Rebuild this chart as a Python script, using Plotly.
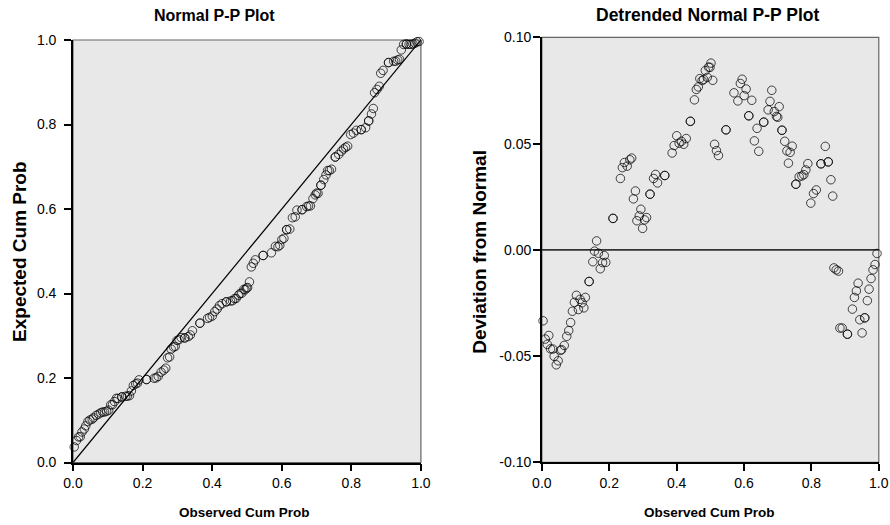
import plotly.graph_objects as go

# Observed cumulative probabilities (sorted cases; repeated values are tied cases)
observed = [
    0.0035, 0.0100, 0.0160, 0.0207, 0.0257, 0.0325, 0.0366, 0.0428, 0.0484, 0.0552,
    0.0588, 0.0665, 0.0739, 0.0798, 0.0854, 0.0907, 0.0966, 0.1025, 0.1084, 0.1134,
    0.1193, 0.1247, 0.1291, 0.1403, 0.1403, 0.1513, 0.1563, 0.1625, 0.1678, 0.1734,
    0.1802, 0.1852, 0.1897, 0.2112, 0.2112, 0.2331, 0.2390, 0.2449, 0.2532, 0.2611,
    0.2665, 0.2718, 0.2777, 0.2821, 0.2892, 0.2939, 0.2990, 0.3049, 0.3108, 0.3211,
    0.3211, 0.3315, 0.3374, 0.3433, 0.3648, 0.3648, 0.3867, 0.3926, 0.4003, 0.4074,
    0.4142, 0.4210, 0.4284, 0.4408, 0.4408, 0.4529, 0.4585, 0.4644, 0.4688, 0.4756,
    0.4801, 0.4851, 0.4910, 0.4948, 0.4990, 0.5019, 0.5072, 0.5126, 0.5182, 0.5241,
    0.5465, 0.5465, 0.5702, 0.5817, 0.5891, 0.5944, 0.6003, 0.6062, 0.6142, 0.6142,
    0.6230, 0.6307, 0.6387, 0.6437, 0.6585, 0.6585, 0.6715, 0.6771, 0.6824, 0.6898,
    0.6963, 0.7001, 0.7043, 0.7126, 0.7126, 0.7208, 0.7273, 0.7318, 0.7368, 0.7430,
    0.7539, 0.7539, 0.7637, 0.7716, 0.7775, 0.7835, 0.7894, 0.7982, 0.8062, 0.8145,
    0.8284, 0.8284, 0.8411, 0.8499, 0.8499, 0.8579, 0.8632, 0.8668, 0.8736, 0.8804,
    0.8845, 0.8913, 0.9069, 0.9069, 0.9217, 0.9276, 0.9335, 0.9386, 0.9436, 0.9504,
    0.9583, 0.9583, 0.9660, 0.9711, 0.9770, 0.9829, 0.9888, 0.9947,
]

# Deviation from normal (observed minus expected cumulative probability)
deviation = [
    -0.0334, -0.0420, -0.0445, -0.0403, -0.0466, -0.0467, -0.0501, -0.0541, -0.0522, -0.0473,
    -0.0470, -0.0450, -0.0407, -0.0380, -0.0342, -0.0289, -0.0247, -0.0214, -0.0281, -0.0233,
    -0.0249, -0.0273, -0.0224, -0.0149, -0.0149, -0.0056, -0.0006, 0.0042, -0.0016, -0.0089,
    -0.0060, -0.0027, -0.0059, 0.0148, 0.0148, 0.0336, 0.0387, 0.0411, 0.0394, 0.0424,
    0.0432, 0.0240, 0.0277, 0.0137, 0.0160, 0.0191, 0.0101, 0.0141, 0.0152, 0.0262,
    0.0262, 0.0336, 0.0355, 0.0315, 0.0350, 0.0350, 0.0456, 0.0491, 0.0537, 0.0502,
    0.0511, 0.0497, 0.0524, 0.0605, 0.0605, 0.0706, 0.0755, 0.0767, 0.0806, 0.0797,
    0.0802, 0.0844, 0.0812, 0.0860, 0.0859, 0.0879, 0.0798, 0.0497, 0.0467, 0.0444,
    0.0565, 0.0565, 0.0739, 0.0701, 0.0783, 0.0803, 0.0726, 0.0757, 0.0631, 0.0631,
    0.0704, 0.0513, 0.0572, 0.0464, 0.0601, 0.0601, 0.0659, 0.0699, 0.0751, 0.0651,
    0.0628, 0.0624, 0.0674, 0.0563, 0.0563, 0.0511, 0.0466, 0.0408, 0.0459, 0.0488,
    0.0309, 0.0309, 0.0344, 0.0348, 0.0354, 0.0376, 0.0406, 0.0220, 0.0265, 0.0282,
    0.0405, 0.0405, 0.0487, 0.0414, 0.0414, 0.0330, 0.0253, -0.0085, -0.0094, -0.0100,
    -0.0368, -0.0368, -0.0397, -0.0397, -0.0279, -0.0224, -0.0193, -0.0157, -0.0329, -0.0391,
    -0.0320, -0.0320, -0.0239, -0.0185, -0.0135, -0.0094, -0.0069, -0.0017,
]

# Expected cumulative probability under the normal model
expected = [o - d for o, d in zip(observed, deviation)]

prob_range = [0.0, 1.0]
prob_ticks = [0.0, 0.2, 0.4, 0.6, 0.8, 1.0]
prob_ticktext = ["0.0", "0.2", "0.4", "0.6", "0.8", "1.0"]
dev_range = [-0.10, 0.10]
dev_ticks = [-0.10, -0.05, 0.00, 0.05, 0.10]
dev_ticktext = ["-0.10", "-0.05", "0.00", "0.05", "0.10"]

# Page-pixel to paper-fraction helpers for the drawing area the figure occupies
AREA_X0, AREA_Y0, AREA_W, AREA_H = 8.0, 8.0, 874.0, 509.0


def fx(px):
    return (px - AREA_X0) / AREA_W


def fy(py):
    return 1.0 - (py - AREA_Y0) / AREA_H


SANS = "Liberation Sans, Arial, sans-serif"
LEFT_TITLE_FONT = dict(family=SANS, size=16, color="black")
RIGHT_TITLE_FONT = dict(family=SANS, size=17.5, color="black")
X_TITLE_FONT = dict(family=SANS, size=13.5, color="black")
Y_TITLE_FONT = dict(family=SANS, size=19, color="black")
TICK_FONT = dict(family=SANS, size=14, color="black")

marker_style = dict(symbol="circle-open", size=8.5, color="black", opacity=0.72,
                    line=dict(width=1, color="black"))

fig = go.Figure()

# Normal P-P plot: reference diagonal and points
fig.add_trace(go.Scatter(x=prob_range, y=prob_range, mode="lines",
                         line=dict(color="black", width=1.2),
                         xaxis="x", yaxis="y", showlegend=False, hoverinfo="skip"))
fig.add_trace(go.Scatter(x=observed, y=expected, mode="markers", marker=marker_style,
                         xaxis="x", yaxis="y", showlegend=False, cliponaxis=False))

# Detrended plot: zero reference line and deviations
fig.add_trace(go.Scatter(x=prob_range, y=[0, 0], mode="lines",
                         line=dict(color="#333333", width=1.6),
                         xaxis="x2", yaxis="y2", showlegend=False, hoverinfo="skip"))
fig.add_trace(go.Scatter(x=observed, y=deviation, mode="markers", marker=marker_style,
                         xaxis="x2", yaxis="y2", showlegend=False, cliponaxis=False))

axis_common = dict(showgrid=False, zeroline=False, showline=True, linecolor="black",
                   linewidth=1.6, ticks="outside", ticklen=7, tickwidth=1.5,
                   tickcolor="black", tickfont=TICK_FONT)

fig.update_layout(
    width=890, height=525,
    margin=dict(l=0, r=0, t=0, b=0, pad=0),
    paper_bgcolor="white",
    plot_bgcolor="#e8e8e8",
    xaxis=dict(domain=[fx(71.3), fx(420.8)], range=prob_range, tickvals=prob_ticks,
               ticktext=prob_ticktext, anchor="y", **axis_common),
    yaxis=dict(domain=[fy(462.5), fy(40.0)], range=prob_range, tickvals=prob_ticks,
               ticktext=prob_ticktext, anchor="x", ticklabelstandoff=5, **axis_common),
    xaxis2=dict(domain=[fx(542.3), fx(880.8)], range=prob_range, tickvals=prob_ticks,
                ticktext=prob_ticktext, anchor="y2", **axis_common),
    yaxis2=dict(domain=[fy(462.3), fy(37.4)], range=dev_range, tickvals=dev_ticks,
                ticktext=dev_ticktext, anchor="x2", ticklabelstandoff=-1, **axis_common),
    shapes=[
        dict(type="rect", xref="x domain", yref="y domain", x0=0, x1=1, y0=0, y1=1,
             line=dict(color="#666666", width=1.2), layer="below"),
        dict(type="rect", xref="x2 domain", yref="y2 domain", x0=0, x1=1, y0=0, y1=1,
             line=dict(color="#666666", width=1.2), layer="below"),
    ],
    annotations=[
        dict(text="<b>Normal P-P Plot</b>", x=fx(213), y=fy(15), xref="paper",
             yref="paper", showarrow=False, font=LEFT_TITLE_FONT,
             xanchor="center", yanchor="middle"),
        dict(text="<b>Detrended Normal P-P Plot</b>", x=fx(709.5), y=fy(15),
             xref="paper", yref="paper", showarrow=False, font=RIGHT_TITLE_FONT,
             xanchor="center", yanchor="middle"),
        dict(text="<b>Observed Cum Prob</b>", x=fx(244), y=fy(512), xref="paper",
             yref="paper", showarrow=False, font=X_TITLE_FONT, xanchor="center",
             yanchor="middle"),
        dict(text="<b>Observed Cum Prob</b>", x=fx(710.5), y=fy(512), xref="paper",
             yref="paper", showarrow=False, font=X_TITLE_FONT, xanchor="center",
             yanchor="middle"),
        dict(text="<b>Expected Cum Prob</b>", x=fx(18), y=fy(251), xref="paper",
             yref="paper", showarrow=False, font=Y_TITLE_FONT, textangle=-90,
             xanchor="center", yanchor="middle"),
        dict(text="<b>Deviation from Normal</b>", x=fx(480), y=fy(252),
             xref="paper", yref="paper", showarrow=False, font=Y_TITLE_FONT,
             textangle=-90, xanchor="center", yanchor="middle"),
    ],
)

fig.write_html("out.html")
